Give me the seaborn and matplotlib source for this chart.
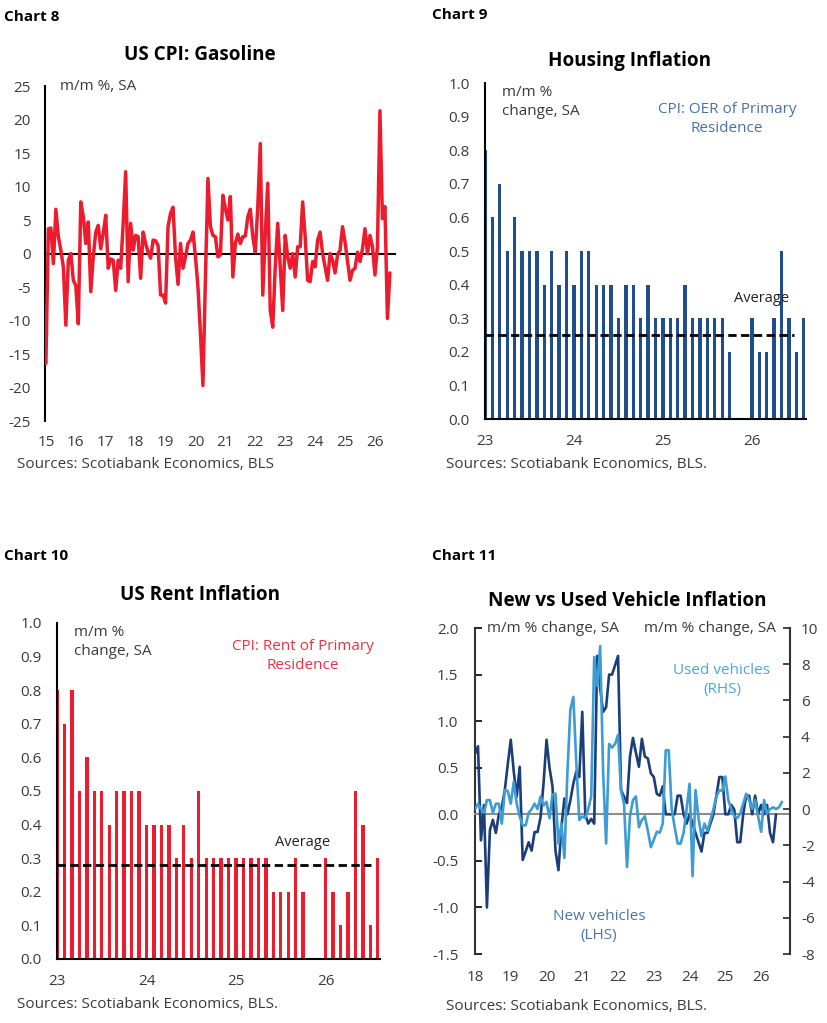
import numpy as np
import pandas as pd
import seaborn as sns
import matplotlib
matplotlib.use('Agg')
import matplotlib.pyplot as plt

sns.set_style('white')
plt.rcParams['font.family'] = ['Open Sans', 'DejaVu Sans']
plt.rcParams['axes.unicode_minus'] = False

# --- data ---
# Chart 8: gasoline CPI m/m %, monthly from Jan 2015
gasoline = [-16.4, 3.7, 3.8, -1.5, 6.6, 2.5, 0.5, -2.0, -10.7, -1.0,
            0.0, -4.0, -4.8, -10.5, 7.7, 5.5, 1.5, 4.7, -5.7, -0.5,
            3.2, 4.2, 0.7, 3.0, 5.7, -2.2, -0.8, -1.0, -5.5, -1.0,
            -2.2, 4.5, 12.2, -4.2, 4.5, 0.5, 2.7, 2.5, -3.7, 3.2,
            1.5, 0.2, -0.7, 2.0, 1.9, 1.2, -6.2, -6.2, -7.4, 4.0,
            6.0, 6.9, -0.5, -4.6, 1.5, -2.2, -0.5, 1.5, 2.0, 3.2,
            -0.5, -5.0, -12.0, -19.7, -3.5, 11.2, 4.0, 2.7, 2.5, -0.5,
            -0.2, 8.7, 6.7, 5.0, 8.5, -3.5, 1.5, 2.9, 1.5, 2.5,
            2.6, 5.5, 6.6, 2.5, 0.2, 7.0, 16.4, -6.2, 3.0, 10.5,
            -8.5, -11.0, -2.0, 4.5, -2.0, -8.5, 2.7, -0.5, -2.2, 0.0,
            -3.5, 1.0, 1.0, 7.7, 2.5, -4.0, -4.2, -1.2, -2.0, 2.0,
            3.2, 0.0, -2.0, -4.0, 0.0, -1.0, -2.9, -0.2, 0.5, 4.0,
            1.7, -1.2, -4.0, -2.5, -2.2, 0.2, -1.2, 0.7, 3.7, 0.0,
            2.7, 1.0, -3.2, 1.0, 21.3, 5.2, 7.0, -9.7, -2.9]
gas_years = ['15', '16', '17', '18', '19', '20', '21', '22', '23', '24', '25', '26']

# Charts 9/10: monthly from Jan 2023 (two months missing)
oer = [0.8, 0.6, 0.7, 0.5, 0.6, 0.5, 0.5, 0.5, 0.4, 0.5, 0.4, 0.5,
       0.4, 0.5, 0.5, 0.4, 0.4, 0.4, 0.3, 0.4, 0.4, 0.3, 0.4, 0.3,
       0.3, 0.3, 0.3, 0.4, 0.3, 0.3, 0.3, 0.3, 0.3, 0.2, np.nan, np.nan,
       0.3, 0.2, 0.2, 0.3, 0.5, 0.3, 0.2, 0.3]
oer_avg = 0.25
rent = [0.8, 0.7, 0.8, 0.5, 0.6, 0.5, 0.5, 0.4, 0.5, 0.5, 0.5, 0.5,
        0.4, 0.4, 0.4, 0.4, 0.3, 0.4, 0.3, 0.5, 0.3, 0.3, 0.3, 0.3,
        0.3, 0.3, 0.3, 0.3, 0.3, 0.2, 0.2, 0.2, 0.3, 0.2, np.nan, np.nan,
        0.3, 0.2, 0.1, 0.2, 0.5, 0.4, 0.1, 0.3]
rent_avg = 0.28
bar_years = ['23', '24', '25', '26']

# Chart 11: monthly from Jan 2018
new_veh = [0.65, 0.73, -0.28, 0.1, -1.0, -0.17, -0.06, -0.2, 0.0, 0.08,
           0.26, 0.54, 0.8, 0.46, 0.19, 0.51, -0.49, -0.4, -0.3, -0.39,
           -0.19, -0.19, -0.03, 0.33, 0.8, 0.5, 0.3, -0.39, -0.6, -0.14,
           0.17, 0.0, 0.15, 0.33, 0.46, 0.4, 1.1, 0.0, -0.1, -0.05,
           -0.1, 1.7, 1.35, 1.1, 1.15, 1.5, 1.5, 1.6, 1.7, 0.26,
           0.19, 0.12, 0.62, 0.82, 0.66, 0.51, 0.81, 0.62, 0.6, 0.44,
           0.4, 0.22, 0.2, 0.3, 0.0, 0.0, 0.0, 0.0, 0.2, 0.2,
           0.0, -0.1, 0.0, -0.1, -0.2, -0.3, -0.4, -0.2, -0.2, -0.1,
           0.0, 0.2, 0.4, 0.4, 0.0, 0.0, 0.1, 0.05, -0.3, -0.3,
           0.0, 0.2, 0.2, 0.0, 0.2, 0.0, 0.1, 0.0, 0.1, -0.2,
           -0.3, 0.0]
used_veh = [0, 0.3, 0, -0.2, 0.5, 0.5, -0.2, 0.3, 0.3, -0.8,
            1.05, 1.0, 0.3, 1.5, 0.3, -0.4, -0.9, -0.9, -0.2, 0,
            0.3, 0, 0.7, 0.2, 0.4, -0.5, 0.8, 0.85, -1.9, -0.8,
            -2.7, 2.0, 5.5, 6.2, 2.5, -0.6, -0.4, -0.5, 0, 0.7,
            8.4, 6.8, 9.0, 2.0, -1.9, 3.6, 3.4, 3.6, 4.1, 1.0,
            0.3, -3.2, -0.4, 0.5, 0.7, -1, -0.6, -0.4, -1.2, -2.1,
            -1.7, -1.25, -1.3, -0.8, 3.25, 3.25, 0, -1, -1.9, -1.9,
            -1.3, 0, 1.4, -3.7, 1.05, -0.5, -1.5, -0.8, -1.2, -0.6,
            0, 0.7, 1.05, 1.0, 1.8, 0.5, 0, -0.4, -0.5, -0.25,
            0.3, 0.85, 0.5, 0, 0.5, -0.4, -1.25, 0.5, -0.25, 0,
            0.1, 0, 0.1, 0.4]
veh_years = ['18', '19', '20', '21', '22', '23', '24', '25', '26']

RED = '#EC1C2E'
NAVY = '#1F4E8A'
DARK = '#1B3E7A'
LIGHT = '#3D9CD4'
TXT = '#3A3A3A'
FS = 11
TITLE_FS = 13.6

W, H = 828, 1023
fig = plt.figure(figsize=(W / 100, H / 100), dpi=100)


def rect(l, t, r, b):
    return [l / W, 1 - b / H, (r - l) / W, (b - t) / H]


def ftext(x, y, s, **kw):
    kw.setdefault('va', 'center')
    kw.setdefault('fontsize', FS)
    kw.setdefault('color', TXT)
    fig.text(x / W, 1 - y / H, s, **kw)


def style_axis(ax):
    for s in ['top', 'right']:
        ax.spines[s].set_visible(False)
    for s in ['left', 'bottom']:
        ax.spines[s].set_color('black')
        ax.spines[s].set_linewidth(1.5)
    ax.set_xlabel('')
    ax.set_ylabel('')
    ax.tick_params(labelsize=FS, colors='black', labelcolor=TXT)


# ---------- Chart 8 ----------
ax8 = fig.add_axes(rect(45, 86, 395, 421))
df8 = pd.DataFrame({'x': 15 + np.arange(len(gasoline)) / 12, 'y': gasoline})
sns.lineplot(data=df8, x='x', y='y', color=RED, lw=2.5, ax=ax8, zorder=3)
style_axis(ax8)
ax8.set_xlim(14.97, 26.67)
ax8.set_ylim(-25, 25)
ax8.set_yticks(range(-25, 26, 5))
ax8.set_xticks(range(15, 27))
ax8.set_xticklabels(gas_years)
ax8.spines['bottom'].set_position(('data', 0))
ax8.tick_params(axis='x', direction='out', length=4, width=1.2, pad=127)
ax8.tick_params(axis='y', direction='in', length=5, width=1.2, pad=10)

ftext(4, 17, 'Chart 8', fontweight='bold', fontsize=11, color='black')
ftext(200, 55, 'US CPI: Gasoline', fontweight='bold', fontsize=TITLE_FS, ha='center', color='black')
ftext(60, 87, 'm/m %, SA')
ftext(17, 464, 'Sources: Scotiabank Economics, BLS')


# ---------- Charts 9 and 10 (bars) ----------
def bar_chart(box, vals, avg, avg_end, color):
    ax = fig.add_axes(rect(*box))
    df = pd.DataFrame({'m': np.arange(len(vals)), 'v': vals}).dropna()
    sns.barplot(data=df, x='m', y='v', native_scale=True, width=0.45,
                color=color, saturation=1, errorbar=None, linewidth=0, ax=ax)
    style_axis(ax)
    ax.set_xlim(0, 43.3)
    ax.set_ylim(0, 1.0)
    ax.axhline(avg, xmin=0, xmax=avg_end / 43.3, color='black', lw=2,
               ls=(0, (3, 1.6)), zorder=4)
    ax.set_yticks(np.arange(0, 1.01, 0.1))
    ax.set_yticklabels([f'{t:.1f}' for t in np.arange(0, 1.01, 0.1)])
    ax.set_xticks([0, 12, 24, 36])
    ax.set_xticklabels(bar_years)
    ax.tick_params(axis='x', direction='out', length=4, width=1.2, pad=7)
    ax.tick_params(axis='y', direction='in', length=5, width=1.2, pad=11)
    return ax


ax9 = bar_chart((485, 83, 806, 419), oer, oer_avg, 41.7, NAVY)
ftext(432, 15, 'Chart 9', fontweight='bold', fontsize=11, color='black')
ftext(630, 61, 'Housing Inflation', fontweight='bold', fontsize=TITLE_FS, ha='center', color='black')
ftext(502, 102, 'm/m %\nchange, SA', linespacing=1.4)
ftext(727, 119, 'CPI: OER of Primary\nResidence', ha='center', color='#4671AD', linespacing=1.4)
ftext(762, 299, 'Average', ha='center', color='#222222', fontsize=10.5)
ftext(446, 465, 'Sources: Scotiabank Economics, BLS.')

ax10 = bar_chart((57, 623, 380, 959), rent, rent_avg, 42.1, RED)
ftext(4, 556, 'Chart 10', fontweight='bold', fontsize=11, color='black')
ftext(200, 595, 'US Rent Inflation', fontweight='bold', fontsize=TITLE_FS, ha='center', color='black')
ftext(74, 642, 'm/m %\nchange, SA', linespacing=1.4)
ftext(303, 656, 'CPI: Rent of Primary\nResidence', ha='center', color='#EE3144', linespacing=1.4)
ftext(303, 842, 'Average', ha='center', color='#222222', fontsize=10.5)
ftext(17, 1005, 'Sources: Scotiabank Economics, BLS.')

# ---------- Chart 11 ----------
ax11 = fig.add_axes(rect(475, 628, 790, 954))
ax11r = ax11.twinx()
sns.lineplot(x=np.arange(len(new_veh)), y=new_veh, color=DARK, lw=1.9, ax=ax11, zorder=3)
sns.lineplot(x=np.arange(len(used_veh)), y=used_veh, color=LIGHT, lw=1.9, ax=ax11r, zorder=3)
style_axis(ax11)
ax11.set_xlim(0, 105.7)
ax11.set_ylim(-1.5, 2.0)
ax11.set_yticks(np.arange(-1.5, 2.01, 0.5))
ax11.set_yticklabels([f'{t:.1f}' for t in np.arange(-1.5, 2.01, 0.5)])
ax11.set_xticks(range(0, 97, 12))
ax11.set_xticklabels(veh_years)
ax11.spines['bottom'].set_position(('data', 0))
ax11.spines['bottom'].set_color('#8C8C8C')
ax11.spines['bottom'].set_linewidth(1.5)
ax11.spines['left'].set_color('#333333')
ax11.tick_params(axis='x', direction='in', length=4, width=1.2, colors='#8C8C8C',
                 labelcolor=TXT, pad=112)
ax11.tick_params(axis='y', direction='in', length=5, width=1.2, pad=12)

ax11r.set_ylim(-8, 10)
ax11r.set_yticks(range(-8, 11, 2))
ax11r.set_ylabel('')
for s in ['top', 'bottom', 'left']:
    ax11r.spines[s].set_visible(False)
ax11r.spines['right'].set_color('#333333')
ax11r.spines['right'].set_linewidth(1.5)
ax11r.tick_params(axis='y', direction='in', length=5, width=1.2, pad=8,
                  labelsize=FS, labelcolor=TXT)

ftext(432, 556, 'Chart 11', fontweight='bold', fontsize=11, color='black')
ftext(627, 601, 'New vs Used Vehicle Inflation', fontweight='bold', fontsize=TITLE_FS, ha='center', color='black')
ftext(487, 628, 'm/m % change, SA')
ftext(644, 628, 'm/m % change, SA')
ftext(722, 680, 'Used vehicles\n(RHS)', ha='center', color='#4BA6DB', linespacing=1.4)
ftext(599, 926, 'New vehicles\n(LHS)', ha='center', color='#4E74AA', linespacing=1.4)
ftext(446, 1006, 'Sources: Scotiabank Economics, BLS.')

fig.savefig('out.png', dpi=100, facecolor='white')
